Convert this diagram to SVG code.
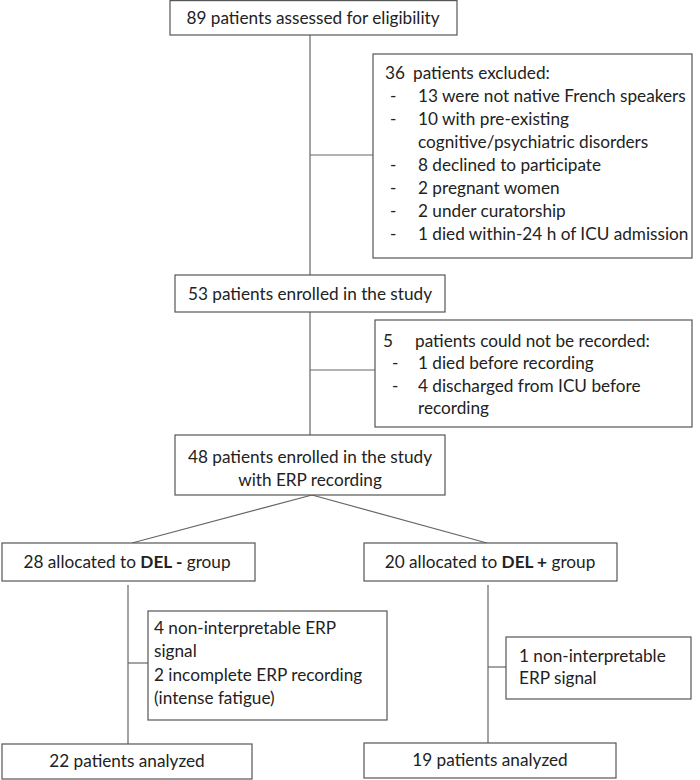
<svg xmlns="http://www.w3.org/2000/svg" width="700" height="780" viewBox="0 0 700 780">
<style>
.box{fill:#fff;stroke:#555;stroke-width:1.2}
.ln{stroke:#666;stroke-width:1.2;fill:none}
text{font-family:Lato,"Open Sans","Liberation Sans",sans-serif;font-size:17.2px;fill:#222}
.c{text-anchor:middle}
.b{font-weight:bold}
</style>
<rect width="700" height="780" fill="#fff"/>
<g id="connectors">
<line class="ln" x1="310" y1="35" x2="310" y2="275"/>
<line class="ln" x1="310" y1="155" x2="373" y2="155"/>
<line class="ln" x1="310" y1="312" x2="310" y2="435"/>
<line class="ln" x1="310" y1="370" x2="375" y2="370"/>
<line class="ln" x1="312" y1="495" x2="132" y2="543"/>
<line class="ln" x1="312" y1="495" x2="487" y2="543"/>
<line class="ln" x1="128" y1="585" x2="128" y2="744"/>
<line class="ln" x1="128" y1="663" x2="148" y2="663"/>
<line class="ln" x1="488" y1="585" x2="488" y2="743"/>
<line class="ln" x1="488" y1="667" x2="506" y2="667"/>
</g>
<g id="n1">
<rect class="box" x="170" y="0.6" width="287" height="34.4"/>
<text class="c" x="313" y="24">89 patients assessed for eligibility</text>
</g>
<g id="n2">
<rect class="box" x="373" y="54" width="319" height="204"/>
<text x="385" y="79">36<tspan x="413">patients excluded:</tspan></text>
<text x="390" y="102">-</text><text x="418" y="102">13 were not native French speakers</text>
<text x="390" y="125">-</text><text x="418" y="125">10 with pre-existing</text>
<text x="418" y="148">cognitive/psychiatric disorders</text>
<text x="390" y="171">-</text><text x="418" y="171">8 declined to participate</text>
<text x="390" y="194">-</text><text x="418" y="194">2 pregnant women</text>
<text x="390" y="217">-</text><text x="418" y="217">2 under curatorship</text>
<text x="390" y="240">-</text><text x="418" y="240">1 died within-24 h of ICU admission</text>
</g>
<g id="n3">
<rect class="box" x="175" y="275" width="270" height="37"/>
<text class="c" x="310" y="300">53 patients enrolled in the study</text>
</g>
<g id="n4">
<rect class="box" x="375" y="320" width="317" height="107"/>
<text x="383" y="347">5</text><text x="415" y="347">patients could not be recorded:</text>
<text x="392" y="369">-</text><text x="418" y="369">1 died before recording</text>
<text x="392" y="392">-</text><text x="418" y="392">4 discharged from ICU before</text>
<text x="418" y="414">recording</text>
</g>
<g id="n5">
<rect class="box" x="175" y="435" width="270" height="60"/>
<text class="c" x="310" y="463">48 patients enrolled in the study</text>
<text class="c" x="310" y="486">with ERP recording</text>
</g>
<g id="n6">
<rect class="box" x="2" y="543" width="253" height="38"/>
<text class="c" x="127" y="568">28 allocated to <tspan class="b">DEL -</tspan> group</text>
</g>
<g id="n7">
<rect class="box" x="364" y="543" width="253" height="38"/>
<text class="c" x="490" y="568">20 allocated to <tspan class="b">DEL +</tspan> group</text>
</g>
<g id="n8">
<rect class="box" x="148" y="611" width="239" height="109"/>
<text x="154" y="634">4 non-interpretable ERP</text>
<text x="154" y="657">signal</text>
<text x="154" y="681">2 incomplete ERP recording</text>
<text x="154" y="704">(intense fatigue)</text>
</g>
<g id="n9">
<rect class="box" x="506" y="637" width="185" height="62"/>
<text x="519" y="662">1 non-interpretable</text>
<text x="519" y="684">ERP signal</text>
</g>
<g id="n10">
<rect class="box" x="2" y="744" width="250" height="35"/>
<text class="c" x="127" y="767">22 patients analyzed</text>
</g>
<g id="n11">
<rect class="box" x="364" y="743" width="252" height="35"/>
<text class="c" x="490" y="766">19 patients analyzed</text>
</g>
</svg>
